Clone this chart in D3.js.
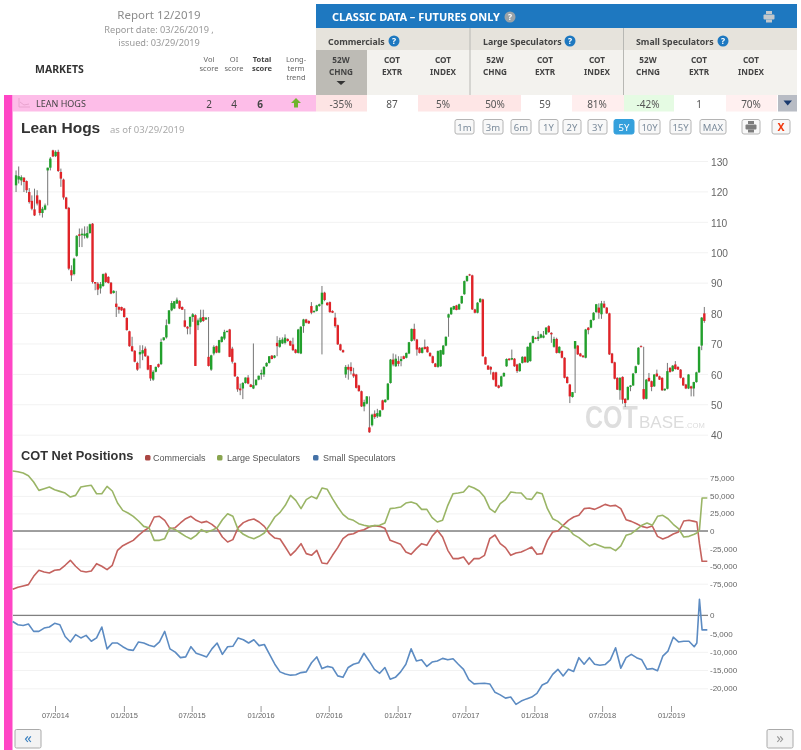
<!DOCTYPE html>
<html>
<head>
<meta charset="utf-8">
<title>Lean Hogs</title>
<script src="https://cdn.jsdelivr.net/npm/d3@7"></script>
<style>
  html, body { margin: 0; padding: 0; background: #fff; }
  svg { display: block; font-family: "Noto Sans", "DejaVu Sans", sans-serif; }
  .soft { filter: blur(0.35px); }
  .axis .domain { display: none; }
  .grid line { stroke: #f2f2f2; }
  .axis text { fill: #666; }
</style>
</head>
<body>
<script>
// === Data ===
const priceTicks = [40, 50, 60, 70, 80, 90, 100, 110, 120, 130];
const netTicks = [-75, -50, -25, 0, 25, 50, 75];        // thousands of contracts
const smallTicks = [-20, -15, -10, -5, 0];
const dateTicks = ["2014-07-01", "2015-01-01", "2015-07-01", "2016-01-01", "2016-07-01",
  "2017-01-01", "2017-07-01", "2018-01-01", "2018-07-01", "2019-01-01"];

// weekly candles
const opens = [
  122,123.9,123.6,124.5,123.4,119.8,116.9,114.1,118.7,117.1,
  112.9,114,126.9,127.8,133.5,131.6,133,126.4,123.9,118,
  114.6,94.1,92.8,98.8,105.9,105.6,105.4,104.8,106.3,109.4,
  90.2,89.7,88.1,88.9,93,91.9,90,86.6,83.1,82,
  82,81.5,78.4,74,69.1,67.6,63.6,66.4,66.7,68.3,
  65.8,62.9,58.1,60.7,63.2,63.2,71.1,72,76.5,80.9,
  81.5,83.1,84,82,77.6,75.5,75.5,78.7,79.3,76,
  77.1,78.7,77.9,65.6,61.4,66.7,69.1,67,70.5,71.6,
  73.8,74.6,68.3,63.6,59,55.2,55.2,57,58.8,56.5,
  55.2,56.3,58.1,59.8,59.8,62.5,63.6,66,65.3,70.2,
  68.9,70,70.2,71.5,70.8,69.7,68,66.9,66.7,75.7,
  77.9,77.4,82.3,80.3,80.7,82.3,82.9,86.7,83.4,83.6,
  80.7,78.5,76,69.7,67.8,59.8,62.3,62.3,60.1,59.8,
  56.2,54.3,49.3,50.2,42.4,43.1,46.9,46,46,51.3,
  50.7,51.5,57,64.7,62.5,64.2,64.2,65.8,65.3,66.7,
  70.8,74.8,71.3,68.6,66.9,68.9,68.9,66.9,65.8,63.4,
  62.3,62.5,66.4,69.3,78.5,79.6,81.2,82.5,81.2,83.2,
  86.2,90.5,92.7,92.4,81.2,80.1,83.6,84.5,65.5,62.7,
  62.3,60.5,60.5,56.2,55.9,59.2,62.5,65,64.7,65,
  63.1,60.9,63.6,65.6,63.8,64.2,70.2,71.9,71.5,71.9,
  71.9,73,75.7,73.5,68.9,71.5,66.9,67.5,65.3,59,
  56.5,52.4,68.3,69.3,66.7,66,65.3,75.2,75.2,77.7,
  80.3,81.8,79.6,83.1,81.8,79.9,66.7,63.8,58.7,54.6,
  59,51.8,51.5,55.7,56.2,60.3,63.1,69.1,55,51.8,
  58.7,57.6,55.9,60.1,59.2,58.7,54.6,55.1,62,60.9,
  63.1,62.3,61.4,58.7,56.5,55.2,55.9,55.2,57.3,60.5,69.3,79.9
];
const highs = [
  126.9,128.2,125.3,124.7,123.6,121.1,118.7,120.9,120.4,117.3,
  114.9,116,127.8,131.3,133.7,133.5,133.7,127.5,124.2,118.2,
  114.9,95.7,98.2,105.6,107.8,107.8,108.5,108.5,109.4,109.6,
  90.2,90.2,90.2,93,93.3,92.1,90.2,87.5,87.3,82.2,
  82.1,81.7,78.6,74.2,72.2,67.8,64,69.4,69.4,69,
  66.1,62.9,61.2,62.4,63.4,71.6,72,77.9,80.9,84,
  83.9,85.1,84.2,82.2,81.3,75.7,78.9,80,79.6,78.2,
  81.1,81.1,78.6,78.7,66.3,69.4,69.3,71.2,72.4,74.5,
  74.3,74.8,68.9,63.8,59.2,56.8,57.3,58.8,59.6,56.7,
  70,58.2,59.4,61.4,62.5,63.8,65.8,66.2,66.2,72.4,
  71.9,72,73,71.7,71,71.9,68.2,74.8,75.7,78.1,
  78.1,77.6,83.6,80.9,82.7,83.1,88.9,87,83.6,83.8,
  80.9,80.1,76.2,69.9,68,62.9,63.1,63.8,62,60,
  56.4,54.5,51.5,52.7,52.6,46.9,48,48.5,48,51.5,
  51.7,57,64.9,66.7,66.4,65.8,65.8,66,67,70.5,
  74.9,76.5,71.5,68.8,68.8,71.3,69.1,67.1,66,63.6,
  67.7,67.9,69.5,72.3,79.8,81.9,82.4,82.7,83.1,85.7,
  90.7,92.3,92.9,92.6,81.4,83.6,84.9,84.7,65.7,62.9,
  62.5,60.7,60.7,56.4,59.4,60.5,65.1,65.2,68,65.2,
  63.3,63.6,65.8,65.8,69,70.4,72.6,72.1,74.1,73.2,
  74.1,75.4,76,73.7,72.2,71.9,69.1,67.7,65.5,59.2,
  56.7,54,70.8,69.5,66.9,66.2,74.8,75.4,77.9,80.3,
  83,83.2,84,84,82,80.1,66.9,64,58.9,58.9,
  59.2,52,55.9,56.3,60.3,62.7,68.8,69.4,68.9,58.3,
  60.3,57.8,59.9,61.4,59.4,58.9,55.2,63.6,62.2,62.9,
  64.2,62.5,61.6,58.9,56.7,59.9,56.1,57.4,60.7,69.1,78.7,82
];
const lows = [
  119.8,122.6,122,119.8,119.5,116,113.8,111.9,115.4,112.1,
  111.4,113.8,115.4,126.9,131.3,131.3,126.4,121.5,117.3,114.1,
  94.1,90.5,92.4,98.5,101.7,101.7,104.5,104.5,106.1,89.7,
  87.5,85.9,86.4,88.6,89.9,89.7,86.2,86.4,78.7,79.8,
  80.7,78.5,74.2,68.9,67.2,63.8,61,61.8,64.5,65.6,
  61.2,57.7,57.7,60.5,62,62.9,70.9,71.6,76.3,80.6,
  81.3,83.1,81.3,81,75.3,73,73,77.1,62.6,74.4,
  76.8,77.1,77.7,62.4,61,66.1,66.8,66.8,70.3,71.1,
  73.6,65.5,63.4,59,54.1,53,51.7,56.8,56.6,55.6,
  55,56.1,57.9,58.1,59,62.3,63.4,64.8,65.1,65.8,
  68.6,69.8,69.7,70.6,69.2,67.5,66.7,66.7,66.5,73.5,
  76.6,76.4,79.6,80.1,80.5,82.1,66.4,83.9,82.4,80.1,
  80,75.2,69.5,67.6,67,58.7,58.1,59.8,58.7,55.2,
  54.2,49.1,47.7,50,40.6,42.7,45.2,45.5,45.8,48,
  50.5,51.3,56.8,62.5,62.3,62.5,62.5,64.8,65.1,66.5,
  70.6,70.8,66,66.7,66.7,68,67,65.7,63.4,62.2,
  62,62.3,66.2,69.1,72.2,79.4,81,80.9,81,83,
  86,90.3,92.2,81,79.9,79.9,83.4,65.7,63,61.3,
  59.8,57.9,55.7,55.2,55.7,59,62.3,64.4,64.5,62.3,
  60.3,60.7,63.4,63.7,63.6,64,70,71.4,70.8,71.7,
  71.7,72.8,73.5,70.2,68.6,66.7,66.7,65.1,58.5,56.8,
  50.4,52.2,53.7,66.2,65.7,65.3,65.1,73,75,77.5,
  80.1,78.1,78.1,81.6,79.7,66.2,63.4,58.2,54.7,51.5,
  50.2,49.1,51.3,54.3,56,60.1,62.9,68.8,51.5,51.6,
  57.4,54.3,55.7,59,58,54.4,54.4,54.9,60.4,60.7,
  61.4,61.3,58.5,56,55,55,52.6,52.6,57.1,60.3,67.8,76.8
];
const closes = [
  125.3,125,124.7,123.1,120.4,116.5,114.3,112.1,116,112.9,
  114.3,115.4,127.8,130.8,131.5,133,126.7,124.2,118,114.3,
  94.6,92.4,97.9,105.4,105.4,106.1,106.1,106.3,109.2,90.2,
  89.7,87.7,89.5,92.8,90.2,89.9,86.4,87.3,82,81.1,
  80.9,78.7,74.4,69.1,67.5,64,61.4,67.2,67.8,65.8,
  61.4,58.5,60.7,62.3,62.3,70.5,72,76,80.9,83.3,
  83.9,84.4,81.5,81.1,75.5,74.9,78.7,79.6,62.6,77.6,
  78.5,77.4,78.5,62.6,66.1,68.9,67,71.1,72.2,73.8,
  74.1,65.6,64,59.2,54.9,54.6,57,58.8,56.8,55.7,
  56.3,58.1,59.4,60.3,62.3,63.6,65.8,64.9,66,69.1,
  71.1,71.3,71.9,70.8,69.3,67.8,66.9,74.6,75.5,77.9,
  76.8,76.6,80.1,80.7,82.5,82.9,86.7,84.3,82.6,80.3,
  80.1,75.7,69.7,67.8,67.1,62.3,61.4,60.9,59.2,55.4,
  54.3,49.3,50.7,52.6,40.8,46.6,45.8,47.1,48,48.2,
  51.5,56.8,64.7,63.1,65,63.3,64.9,64.9,66.9,70.4,
  74.8,71.3,68,66.9,68.6,68.2,67.1,65.8,63.6,62.3,
  67.5,67.8,69.3,72.2,79.6,81.8,82.3,81,82.9,85.6,
  90.5,92.2,92.4,81.2,80.1,83.4,84.7,65.8,63.1,61.4,
  61.4,58.1,55.9,55.4,59.2,60.3,64.9,64.5,65.2,62.5,
  60.9,63.4,65.6,63.8,68.9,70.2,72.4,71.5,72.2,73,
  72.6,75.2,73.7,73,71.5,66.9,68.9,65.3,58.7,57,
  52.6,54,70.8,66.4,65.8,65.5,74.6,74.4,77.7,80.1,
  82.9,80.1,83.2,81.8,79.9,66.4,63.6,58.4,54.8,58.7,
  51.5,50.4,55.7,56.2,60.1,62.5,68.6,68.9,51.8,58.1,
  57.6,55.7,59.8,59.2,58.1,54.6,55.1,60.9,60.6,62.7,
  61.6,61.4,58.7,56.2,55.2,59.8,55.2,57.3,60.5,68.9,78.5,77.4
];

// net positions in thousands, read every second week, then weekly at the end
const commercials = [
  -83,-80,-78.2,-76.3,-64.5,-55.9,-58.3,-59.7,-55.9,-55,
  -48.8,-41.7,-50.2,-56.9,-58.3,-56.9,-46.5,-50.2,-55,-48.8,
  -27.5,-20.9,-17.1,-13.3,-6.2,0,4.7,19.9,20.9,15.2,
  3.3,4.7,11.4,17.5,20.9,15.2,11.9,13.7,9.5,3.3,
  -8.5,-15.6,-12.3,4.7,11.9,15.2,17.1,12.8,6.6,-3.8,
  -10,-11.4,-22.8,-34.6,-27.5,-18,-32.2,-34.6,-27.5,-45.5,
  -46.5,-34.6,-23.7,-10.9,-5.2,-3.8,0,1.9,5.7,7.6,
  6.6,3.8,-13.3,-16.1,-19,-29.9,-33.2,-25.1,-18,-20.4,
  -7.6,0.9,-8.5,-27.5,-39.3,-39.3,-37,-47.4,-39.3,-39.3,
  -34.6,-10.9,-5.7,-18,-23.7,-34.6,-31.3,-29.9,-26.5,-22.8,
  -33.2,-32.2,-13.3,-1.4,0,8.1,15.2,19.9,22.3,31.8,
  32.7,30.8,34.1,37.9,35.6,36.5,31.8,16.1,13.7,10.4,
  6.6,4.7,7.1,-7.6,-11.4,-8.5,-4.3,-1.4,14.2,15.2,
  13.7,12.8,-18,-43.1,-43.1
];
const largeSpeculators = [
  85.3,84.4,82.5,78.7,69.7,57.8,60.2,62.6,58.8,56.4,
  54,48.3,50.7,62.6,64,65,53,53,63.5,56.9,
  39.8,29.4,25.6,20.9,14.2,6.6,4.7,-13.3,-13.3,-10.9,
  4.7,1.9,-2.8,-7.6,-11.4,-6.2,1.9,-1.9,0.9,4.7,
  16.1,24.6,20.9,1.9,-4.7,-8.5,-10.9,-7.6,-2.8,8.1,
  19.9,26.5,36.5,50.7,43.6,31.8,44.6,49.3,46,61.1,
  59.3,46,34.1,23.7,17.5,15.2,10.4,8.1,6.6,7.6,
  8.1,11.4,31.8,32.7,34.1,39.8,41.2,38.9,30.8,30.8,
  19,12.8,15.2,36.5,53.1,54,55.5,64,61.1,56.9,
  48.3,31.8,26.5,38.9,44.6,55.5,54.5,54,46,45,
  55,53.1,31.8,17.5,13.7,7.1,3.3,-5.2,-9.5,-15.6,
  -21.3,-18,-20.9,-23.7,-23.7,-28,-21.3,-6.2,-3.8,1.9,
  8.1,11.4,8.1,20.9,22.3,17.5,9.5,3.3,-8.5,-7.6,
  -4.7,-2.8,1.9,46.9,46.9
];
const smallSpeculators = [
  -1.7,-2.6,-2.8,-2.4,-4.4,-4.4,-3.5,-3.2,-2.2,-2.6,
  -5.8,-7.3,-5.3,-6.2,-5.5,-7.1,-6.2,-3.2,-9.2,-7.6,
  -7.6,-8.6,-9.4,-9.6,-7.3,-7.6,-8.2,-8.6,-7.3,-4.4,
  -9.2,-10.1,-11.6,-11.4,-8.6,-10.4,-10.9,-11.4,-9.2,-7.6,
  -10.7,-8.6,-8.5,-6.2,-6.7,-7.6,-6.7,-8.3,-8,-10.7,
  -13.4,-15.5,-16.1,-16.4,-16.3,-15.7,-15.5,-13,-11.4,-14.6,
  -14,-14.3,-16.6,-17,-14.3,-13.4,-13,-10.4,-12.5,-14.8,
  -15.9,-14.3,-17.5,-17,-15.5,-13.4,-9.2,-12.5,-12.2,-14,
  -12.8,-12.5,-11.8,-12.2,-11.9,-13.4,-14.8,-17.6,-18.8,-18.7,
  -18.6,-18.8,-21.1,-21.8,-22.7,-22.4,-24.4,-23.5,-22.9,-22.4,
  -21.4,-19.1,-18.4,-16.2,-14.8,-16.6,-14.8,-15.4,-11.6,-13.4,
  -11.6,-13.4,-13.7,-13.5,-12.2,-8.9,-14.5,-11.6,-10.7,-11.6,
  -12.2,-14.8,-14.6,-15.2,-11.2,-9.8,-6,-7.3,-7.1,-7.1,
  -8.6,-7.6,4.4,-4,-4
];

// table
const reportLines = ["Report 12/2019", "Report date: 03/26/2019 ,", "issued: 03/29/2019"];
const groupNames = ["Commercials", "Large Speculators", "Small Speculators"];
const columnHeads = [["52W","CHNG"],["COT","EXTR"],["COT","INDEX"],["52W","CHNG"],["COT","EXTR"],["COT","INDEX"],["52W","CHNG"],["COT","EXTR"],["COT","INDEX"]];
const cellValues = ["-35%","87","5%","50%","59","81%","-42%","1","70%"];
const scoreHeads = [["Vol","score"],["OI","score"],["Total","score"],["Long-","term","trend"]];
const scoreValues = ["2","4","6"];
const rangeButtons = ["1m","3m","6m","1Y","2Y","3Y","5Y","10Y","15Y","MAX"];

// === Layout ===
const width = 801, height = 750;
const plotLeft = 13, plotRight = 708;
const lineColor = { commercials: "#c4625e", large: "#9ab566", small: "#5c8bc2" };

const svg = d3.select("body").append("svg").attr("width", width).attr("height", height);
const page = svg.append("g").attr("class", "soft");

const x = d3.scaleTime()
  .domain([new Date(2014, 6, 1), new Date(2019, 0, 1)])
  .range([55, 671]);
const yPrice = d3.scaleLinear().domain([40, 130]).range([434.7, 161]);
const yNet = d3.scaleLinear().domain([-75, 75]).range([583.7, 478.3]);
const ySmall = d3.scaleLinear().domain([-20, 0]).range([688.3, 615.3]);

function text(parent, str, px, py, size, fill, opts = {}) {
  return parent.append("text").attr("x", px).attr("y", py)
    .attr("font-size", size).attr("fill", fill)
    .attr("text-anchor", opts.anchor || "start")
    .attr("font-weight", opts.weight || "normal")
    .attr("font-family", opts.family || null)
    .attr("letter-spacing", opts.spacing || null)
    .text(str);
}

function helpIcon(parent, cx, cy, fill) {
  parent.append("circle").attr("cx", cx).attr("cy", cy).attr("r", 5.5).attr("fill", fill);
  text(parent, "?", cx, cy + 3.2, 8.5, "#fff", { anchor: "middle", weight: "bold" });
}

function printerIcon(parent, cx, cy, fill) {
  parent.append("rect").attr("x", cx - 3).attr("y", cy - 6).attr("width", 6).attr("height", 3).attr("fill", fill);
  parent.append("rect").attr("x", cx - 5.5).attr("y", cy - 2.5).attr("width", 11).attr("height", 5).attr("rx", 1).attr("fill", fill);
  parent.append("rect").attr("x", cx - 3).attr("y", cy + 2.5).attr("width", 6).attr("height", 3).attr("fill", fill);
}

// === Left strip and header table ===
page.append("rect").attr("x", 4).attr("y", 95).attr("width", 8.5).attr("height", 655).attr("fill", "#ff45c5");

reportLines.forEach((line, i) => {
  text(page, line, 159, [19, 33, 46][i], i === 0 ? 11.5 : 9.2, i === 0 ? "#8c8c8c" : "#999", { anchor: "middle" });
});
text(page, "MARKETS", 35, 73, 10.5, "#333", { weight: "bold" });

const scoreX = [209, 234, 262, 296];
scoreHeads.forEach((lines, i) => {
  lines.forEach((line, j) => {
    text(page, line, scoreX[i], 62 + j * 9, 7.5, i === 2 ? "#444" : "#666", { anchor: "middle", weight: i === 2 ? "bold" : "normal" });
  });
});

page.append("rect").attr("x", 316).attr("y", 4).attr("width", 481).attr("height", 24).attr("fill", "#1e78c0");
text(page, "CLASSIC DATA – FUTURES ONLY", 332, 21, 11, "#fff", { weight: "bold" });
helpIcon(page, 510, 17, "#9aa3a8");
printerIcon(page, 769, 17, "#c2c8cc");

page.append("rect").attr("x", 316).attr("y", 28).attr("width", 481).attr("height", 22).attr("fill", "#e6e3dc");
page.append("rect").attr("x", 316).attr("y", 50).attr("width", 481).attr("height", 45).attr("fill", "#f3f2ee");
page.append("rect").attr("x", 316).attr("y", 50).attr("width", 51).attr("height", 45).attr("fill", "#bdbbb5");
[470, 623.5].forEach(sep => {
  page.append("line").attr("x1", sep).attr("x2", sep).attr("y1", 28).attr("y2", 95).attr("stroke", "#b8b8b4");
});

const groupX = [328, 483, 636], groupHelp = [394, 570, 723];
groupNames.forEach((name, i) => {
  text(page, name, groupX[i], 45, 8.8, "#444", { weight: "bold" });
  helpIcon(page, groupHelp[i], 41, "#1e78c0");
});

const columnX = [341, 392, 443, 495, 545, 597, 648, 699, 751];
columnHeads.forEach((lines, i) => {
  lines.forEach((line, j) => {
    text(page, line, columnX[i], 63 + j * 12, 8.2, "#444", { anchor: "middle", weight: "bold" });
  });
});
page.append("path").attr("d", d3.line()([[336.5, 81], [345.5, 81], [341, 85]])).attr("fill", "#333");

// row
page.append("rect").attr("x", 13).attr("y", 95).attr("width", 303).attr("height", 16.5).attr("fill", "#fdbde8");
page.append("path").attr("d", "M19 98V107H30M20 102L24 105L29 104").attr("fill", "none").attr("stroke", "#e9a4cf").attr("stroke-width", 1);
text(page, "LEAN HOGS", 36, 107, 9, "#444");
scoreValues.forEach((v, i) => {
  text(page, v, [209, 234, 260][i], 108, 10, "#444", { anchor: "middle", weight: i === 2 ? "bold" : "normal" });
});
page.append("path").attr("d", "M296 98L301 103H298V107.5H294V103H291Z").attr("fill", "#6fb52c");

const cellEdges = [316, 367, 418, 470, 521, 572, 624, 674, 726, 777];
const cellFills = ["#fde4e4", "#fff", "#fee6e6", "#fee6e6", "#fff", "#ffeeee", "#e5fbe3", "#fff", "#fff0f0"];
cellValues.forEach((v, i) => {
  page.append("rect").attr("x", cellEdges[i]).attr("y", 95).attr("width", cellEdges[i + 1] - cellEdges[i]).attr("height", 16.5).attr("fill", cellFills[i]);
  text(page, v, columnX[i], 108, 10, "#555", { anchor: "middle" });
});
page.append("rect").attr("x", 778).attr("y", 95).attr("width", 19).attr("height", 16.5).attr("fill", "#b8bcc4");
page.append("path").attr("d", "M783.5 100.5H792L787.7 105.5Z").attr("fill", "#1a3a6e");

// === Title row ===
text(page, "Lean Hogs", 21, 133, 15.5, "#333", { weight: "bold", family: "Liberation Sans" });
text(page, "as of 03/29/2019", 110, 133, 9.5, "#aaa");

const buttonEdges = [[455,474],[483,503],[511,531],[539,558],[563,581],[588,607],[614,634],[639,660],[670,691],[700,726]];
rangeButtons.forEach((label, i) => {
  const on = label === "5Y";
  page.append("rect").attr("x", buttonEdges[i][0]).attr("y", 119.5).attr("width", buttonEdges[i][1] - buttonEdges[i][0]).attr("height", 14.5).attr("rx", 2)
    .attr("fill", on ? "#34a0dc" : "#f8f8f8").attr("stroke", on ? "#34a0dc" : "#b4b4b4");
  text(page, label, (buttonEdges[i][0] + buttonEdges[i][1]) / 2, 131, 9.5, on ? "#fff" : "#7a8a9a", { anchor: "middle" });
});
page.append("rect").attr("x", 742).attr("y", 119.5).attr("width", 18).attr("height", 14.5).attr("rx", 2).attr("fill", "#f8f8f8").attr("stroke", "#b4b4b4");
printerIcon(page, 751, 127, "#7d7d7d");
page.append("rect").attr("x", 772).attr("y", 119.5).attr("width", 18).attr("height", 14.5).attr("rx", 2).attr("fill", "#f8f8f8").attr("stroke", "#b4b4b4");
text(page, "X", 781, 131, 10.5, "#f03a10", { anchor: "middle", weight: "bold" });

// === Axes and grids ===
page.append("g").attr("class", "axis grid").attr("transform", `translate(${plotRight},0)`)
  .call(d3.axisRight(yPrice).tickValues(priceTicks).tickSize(-(plotRight - plotLeft)).tickPadding(3))
  .call(g => g.selectAll("text").attr("font-size", 10.2).attr("font-family", "Liberation Sans").attr("dy", "0.42em"));

const fmtNet = d => d3.format(",")(d * 1000).replace("−", "-");
page.append("g").attr("class", "axis grid").attr("transform", `translate(${plotRight},0)`)
  .call(d3.axisRight(yNet).tickValues(netTicks).tickFormat(fmtNet).tickSize(-(plotRight - plotLeft)).tickPadding(2))
  .call(g => g.selectAll("text").attr("font-size", 8).attr("font-family", "Liberation Sans"));

page.append("g").attr("class", "axis grid").attr("transform", `translate(${plotRight},0)`)
  .call(d3.axisRight(ySmall).tickValues(smallTicks).tickFormat(fmtNet).tickSize(-(plotRight - plotLeft)).tickPadding(2))
  .call(g => g.selectAll("text").attr("font-size", 8).attr("font-family", "Liberation Sans"));

[yNet(0), ySmall(0)].forEach(zero => {
  page.append("line").attr("x1", plotLeft).attr("x2", plotRight).attr("y1", zero).attr("y2", zero).attr("stroke", "#808080").attr("stroke-width", 1.3);
});

page.append("g").attr("class", "axis").attr("transform", "translate(0,706)")
  .call(d3.axisBottom(x).tickValues(dateTicks.map(d => d3.timeParse("%Y-%m-%d")(d))).tickFormat(d3.timeFormat("%m/%Y")).tickSize(6).tickPadding(1))
  .call(g => g.selectAll("line").attr("stroke", "#999"))
  .call(g => g.selectAll("text").attr("font-size", 7.5).attr("font-family", "Liberation Sans"));

// === Watermark ===
text(page, "COT", 0, 0, 25, "#dedede", { weight: "bold", family: "Liberation Sans" })
  .attr("transform", "translate(585,428) scale(1,1.22)");
text(page, "BASE", 639, 428, 17, "#dcdcdc", { family: "Liberation Sans" });
text(page, ".COM", 685, 428, 7.6, "#dcdcdc", { family: "Liberation Sans" });

// === Candles ===
const candleFirst = new Date(2014, 2, 19), candleLast = new Date(2019, 2, 31);
const candleDate = d3.scaleLinear().domain([0, closes.length - 1]).range([+candleFirst, +candleLast]);
const candles = d3.range(closes.length).map(i => ({
  date: new Date(candleDate(i)), open: opens[i], high: highs[i], low: lows[i], close: closes[i]
}));

const candleG = page.append("g");
candleG.selectAll("line").data(candles).join("line")
  .attr("x1", d => x(d.date)).attr("x2", d => x(d.date))
  .attr("y1", d => yPrice(d.high)).attr("y2", d => yPrice(d.low))
  .attr("stroke", "#666").attr("stroke-width", 0.9);
candleG.selectAll("rect").data(candles).join("rect")
  .attr("x", d => x(d.date) - 1.2)
  .attr("width", 2.4)
  .attr("y", d => yPrice(Math.max(d.open, d.close)))
  .attr("height", d => Math.max(1, Math.abs(yPrice(d.open) - yPrice(d.close))))
  .attr("fill", d => d.close < d.open ? "#e02328" : "#22a02c");

// === COT lines ===
const lineWeeks = d3.range(0, 261, 2).concat([261, 262, 263, 265]);
const lineDates = lineWeeks.map(w => d3.timeDay.offset(new Date(2014, 2, 10), w * 7));

function drawLine(values, y, color) {
  const line = d3.line().x((d, i) => x(lineDates[i])).y(d => y(d));
  page.append("path").datum(values).attr("d", line)
    .attr("fill", "none").attr("stroke", color).attr("stroke-width", 1.6).attr("stroke-linejoin", "round");
}
drawLine(commercials, yNet, lineColor.commercials);
drawLine(largeSpeculators, yNet, lineColor.large);
drawLine(smallSpeculators, ySmall, lineColor.small);

// === Legend ===
text(page, "COT Net Positions", 21, 460, 12.8, "#333", { weight: "bold", family: "Liberation Sans" });
const legendItems = [
  { label: "Commercials", sq: 145, tx: 153, color: "#aa4643" },
  { label: "Large Speculators", sq: 217, tx: 227, color: "#89a54e" },
  { label: "Small Speculators", sq: 313, tx: 323, color: "#4572a7" }
];
legendItems.forEach(d => {
  page.append("rect").attr("x", d.sq).attr("y", 455).attr("width", 5.5).attr("height", 5.5).attr("rx", 1.5).attr("fill", d.color);
  text(page, d.label, d.tx, 461, 9, "#555", { family: "Liberation Sans" });
});

// === Paging buttons ===
[[15, "«", "#3a80c0"], [767, "»", "#999"]].forEach(([bx, glyph, color]) => {
  page.append("rect").attr("x", bx).attr("y", 729.5).attr("width", 26).attr("height", 18.5).attr("rx", 1.5).attr("fill", "#f3f3f3").attr("stroke", "#aaa");
  text(page, glyph, bx + 13, 743, 15, color, { anchor: "middle" });
});
</script>
</body>
</html>
